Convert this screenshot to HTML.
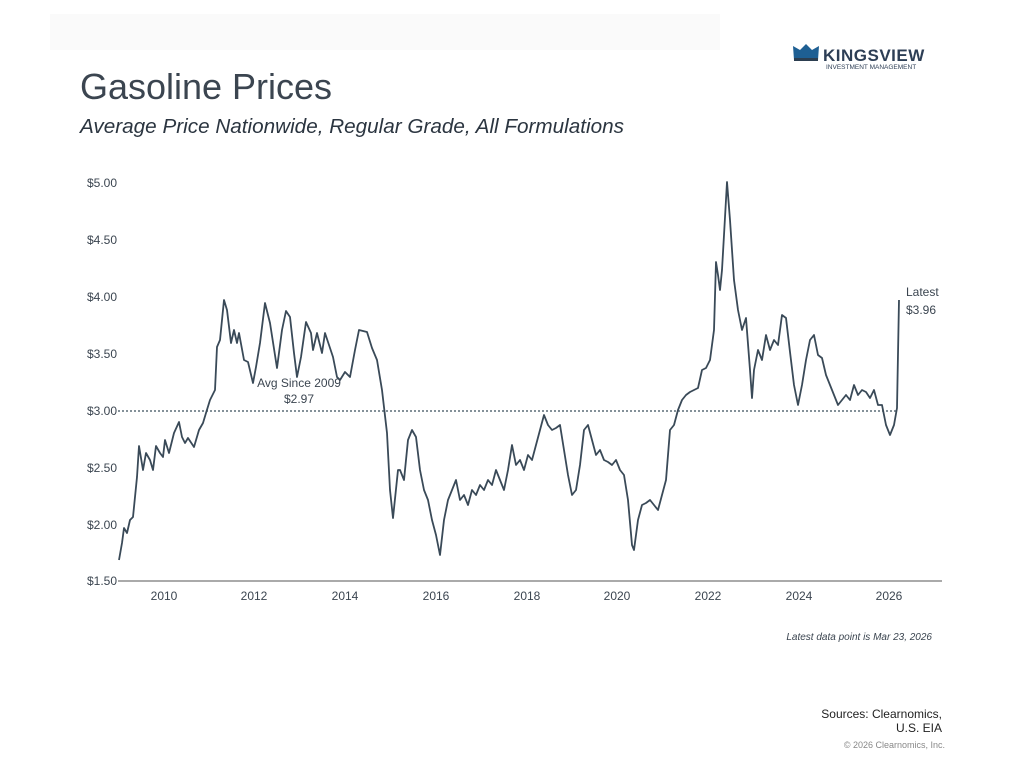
<!DOCTYPE html>
<html><head><style>
html,body{margin:0;padding:0;background:#fff;width:1024px;height:768px;overflow:hidden;font-family:"Liberation Sans",sans-serif;}
</style></head><body>
<svg width="1024" height="768" xmlns="http://www.w3.org/2000/svg" font-family="Liberation Sans, sans-serif">
<rect x="50" y="14" width="670" height="36" fill="#fafafa"/>
<text x="80" y="99" font-size="36" fill="#3b4550" textLength="252" lengthAdjust="spacingAndGlyphs">Gasoline Prices</text>
<text x="80" y="133" font-size="20" font-style="italic" fill="#2b3540" textLength="544" lengthAdjust="spacingAndGlyphs">Average Price Nationwide, Regular Grade, All Formulations</text>
<!-- logo -->
<polygon points="793,46 800,50 806,44 812,50 819,46 818,60 794,60" fill="#1e5f93"/>
<rect x="794" y="58" width="24" height="3" fill="#2c3e50"/>
<text x="823" y="61" font-size="17" font-weight="bold" fill="#2d3e55" letter-spacing="0.5">KINGSVIEW</text>
<text x="826" y="69" font-size="6.5" fill="#2d3e55">INVESTMENT MANAGEMENT</text>
<g font-size="12" fill="#3b4550" text-anchor="end">
<text x="117" y="187">$5.00</text>
<text x="117" y="244">$4.50</text>
<text x="117" y="301">$4.00</text>
<text x="117" y="358">$3.50</text>
<text x="117" y="415">$3.00</text>
<text x="117" y="472">$2.50</text>
<text x="117" y="529">$2.00</text>
<text x="117" y="585">$1.50</text>
</g>
<line x1="118" y1="581" x2="942" y2="581" stroke="#777" stroke-width="1.2"/>
<g font-size="12" fill="#3b4550" text-anchor="middle">
<text x="164" y="600">2010</text><text x="254" y="600">2012</text><text x="345" y="600">2014</text>
<text x="436" y="600">2016</text><text x="527" y="600">2018</text><text x="617" y="600">2020</text>
<text x="708" y="600">2022</text><text x="799" y="600">2024</text><text x="889" y="600">2026</text>
</g>
<line x1="118" y1="411" x2="898" y2="411" stroke="#3b4f5c" stroke-width="1.3" stroke-dasharray="2,2"/>
<polyline fill="none" stroke="#3a4a58" stroke-width="1.8" stroke-linejoin="round" points="119,560 122,543 124,528 127,533 130,520 133,517 137,477 139,446 143,470 146,453 150,460 153,470 156,446 160,453 163,457 165,440 169,453 174,433 179,422 182,437 185,443 188,438 194,447 199,430 203,423 206,413 210,400 215,390 217,347 220,340 224,300 227,310 231,343 234,330 237,343 239,333 244,360 248,362 253,383 256,367 260,343 265,303 270,323 277,368 282,330 286,311 290,317 294,353 297,377 301,357 306,322 311,333 313,350 317,333 322,353 325,333 329,345 333,357 337,377 340,380 345,372 350,377 355,350 359,330 367,332 372,348 377,360 382,390 387,433 390,490 393,518 398,470 400,470 404,480 408,440 412,430 416,437 420,470 424,490 428,500 432,520 436,535 440,555 444,520 448,500 452,490 456,480 460,500 464,495 468,505 472,490 476,495 480,485 484,490 488,480 492,485 496,470 500,480 504,490 508,470 512,445 516,465 520,460 524,470 528,455 532,460 536,445 540,430 544,415 548,425 552,430 556,428 560,425 564,450 568,475 572,495 576,490 580,465 584,430 588,425 592,440 596,455 600,450 604,460 608,462 612,465 616,460 620,470 624,475 628,500 632,545 634,550 638,520 642,505 646,503 650,500 654,505 658,510 662,495 666,480 670,430 674,425 678,410 682,400 686,395 690,392 694,390 698,388 702,370 706,368 710,360 714,330 716,262 718,275 720,290 722,270 724,235 727,182 730,220 734,280 738,310 742,330 746,318 750,370 752,398 754,370 758,350 762,360 766,335 770,350 774,340 778,345 782,315 786,318 790,352 794,385 798,405 802,385 806,360 810,340 814,335 818,355 822,358 826,375 830,385 834,395 838,405 842,400 846,395 850,400 854,385 858,395 862,390 866,392 870,398 874,390 878,405 882,405 886,425 890,435 894,425 897,408 899,300"/>
<text x="299" y="387" font-size="12" fill="#3b4550" text-anchor="middle">Avg Since 2009</text>
<text x="299" y="403" font-size="12" fill="#3b4550" text-anchor="middle">$2.97</text>
<text x="906" y="296" font-size="12" fill="#3b4550">Latest</text>
<text x="906" y="314" font-size="12" fill="#3b4550">$3.96</text>
<text x="932" y="640" font-size="10" font-style="italic" fill="#3b4550" text-anchor="end">Latest data point is Mar 23, 2026</text>
<text x="942" y="718" font-size="12" fill="#222" text-anchor="end">Sources: Clearnomics,</text>
<text x="942" y="732" font-size="12" fill="#222" text-anchor="end">U.S. EIA</text>
<text x="945" y="748" font-size="9" fill="#888" text-anchor="end">© 2026 Clearnomics, Inc.</text>
</svg>
</body></html>
